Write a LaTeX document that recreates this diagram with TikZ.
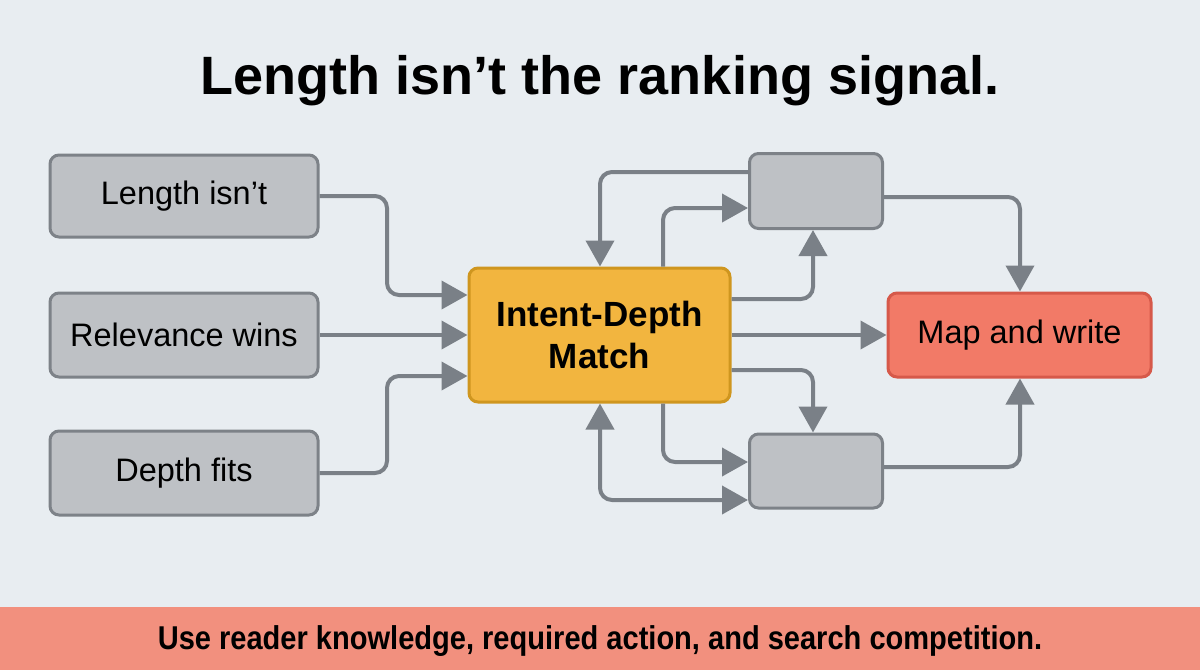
\documentclass[tikz,border=0pt]{standalone}
\usepackage{fontspec}
\setmainfont{Liberation Sans}
\usetikzlibrary{arrows.meta}
\definecolor{bg}{HTML}{E8EDF1}
\definecolor{grayfill}{HTML}{BEC1C5}
\definecolor{grayline}{HTML}{7D8288}
\definecolor{yfill}{HTML}{F2B53F}
\definecolor{yline}{HTML}{CF961F}
\definecolor{rfill}{HTML}{F27A67}
\definecolor{rline}{HTML}{D6594A}
\definecolor{band}{HTML}{F2907E}
\definecolor{arr}{HTML}{7A8087}
\tikzset{
  box/.style={draw, line width=3pt, rounded corners=9pt, inner sep=0pt, align=center},
  graybox/.style={box, draw=grayline, fill=grayfill},
  conn/.style={draw=arr, line width=4pt, rounded corners=12pt, -{Triangle[length=26pt,width=28pt]}},
  lbl/.style={font=\fontsize{32.5}{38}\selectfont}
}
\begin{document}
\begin{tikzpicture}[x=1pt,y=-1pt]
\fill[bg] (0,0) rectangle (1200,670);
\useasboundingbox (0,0) rectangle (1200,670);
\fill[band] (0,607) rectangle (1200,670);
\node[anchor=base, font=\fontsize{54}{60}\selectfont\bfseries] (title) at (600,94) {Length isn’t the ranking signal.};
\node[anchor=base, font=\fontsize{33}{38}\selectfont\bfseries] (foot) at (600,649) {\scalebox{0.88}[1]{Use reader knowledge, required action, and search competition.}};

% left boxes
\node[graybox, minimum width=268pt, minimum height=82pt, lbl] (a) at (184,196) {Length isn’t};
\node[graybox, minimum width=268pt, minimum height=84pt, lbl] (b) at (184,335) {Relevance wins};
\node[graybox, minimum width=268pt, minimum height=84pt, lbl] (c) at (184,473) {Depth fits};
% center
\node[box, draw=yline, fill=yfill, minimum width=261pt, minimum height=134pt, font=\fontsize{35}{42}\selectfont\bfseries] (m) at (599.5,335) {Intent-Depth\\Match};
% right gray boxes
\node[graybox, minimum width=133pt, minimum height=75pt] (t) at (816,191) {};
\node[graybox, minimum width=133pt, minimum height=74pt] (u) at (816,471) {};
% red
\node[box, draw=rline, fill=rfill, minimum width=263pt, minimum height=84pt, lbl] (r) at (1019.5,335) {Map and write};

% connectors
\draw[conn] (a.east) -- (387,196) -- (387,295) -- (m.west |- 0,295);
\draw[conn] (b.east) -- (m.west);
\draw[conn] (c.east) -- (387,473) -- (387,376) -- (m.west |- 0,376);
\draw[conn] (t.west |- 0,172) -- (600,172) -- (m.north -| 600,0);
\draw[conn] (m.north -| 663,0) -- (663,208) -- (t.west |- 0,208);
\draw[conn] (m.east |- 0,299) -- (813,299) -- (t.south -| 813,0);
\draw[conn] (m.east) -- (r.west);
\draw[conn] (m.east |- 0,370) -- (813,370) -- (u.north -| 813,0);
\draw[conn] (m.south -| 663,0) -- (663,462) -- (u.west |- 0,462);
\draw[conn, {Triangle[length=26pt,width=28pt]}-{Triangle[length=26pt,width=28pt]}] (m.south -| 600,0) -- (600,500) -- (u.west |- 0,500);
\draw[conn] (t.east |- 0,197) -- (1020,197) -- (r.north -| 1020,0);
\draw[conn] (u.east |- 0,467) -- (1020,467) -- (r.south -| 1020,0);
\end{tikzpicture}
\end{document}
